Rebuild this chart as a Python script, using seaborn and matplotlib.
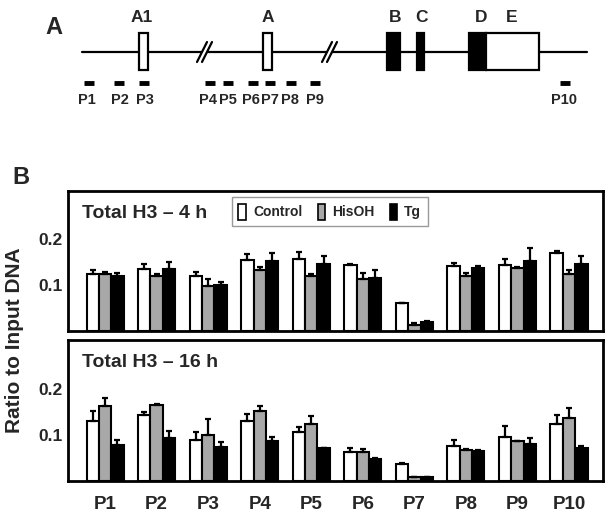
import numpy as np
import pandas as pd
import matplotlib
matplotlib.use("Agg")
import matplotlib.pyplot as plt
import matplotlib.patches as mpatches
import seaborn as sns

# ---- panel B data ----
probes = ["P1", "P2", "P3", "P4", "P5", "P6", "P7", "P8", "P9", "P10"]
treatments = ["Control", "HisOH", "Tg"]

h3_4h_control = [0.124, 0.135, 0.120, 0.155, 0.156, 0.144, 0.061, 0.142, 0.144, 0.170]
h3_4h_hisoh = [0.124, 0.120, 0.098, 0.133, 0.120, 0.113, 0.014, 0.120, 0.137, 0.124]
h3_4h_tg = [0.120, 0.135, 0.101, 0.153, 0.147, 0.116, 0.020, 0.137, 0.153, 0.147]
err_4h_control = [0.009, 0.011, 0.009, 0.012, 0.016, 0.003, 0.001, 0.006, 0.013, 0.004]
err_4h_hisoh = [0.005, 0.004, 0.015, 0.006, 0.004, 0.014, 0.004, 0.007, 0.002, 0.009]
err_4h_tg = [0.007, 0.015, 0.006, 0.017, 0.016, 0.017, 0.001, 0.005, 0.028, 0.017]

h3_16h_control = [0.130, 0.142, 0.089, 0.130, 0.106, 0.062, 0.036, 0.075, 0.096, 0.123]
h3_16h_hisoh = [0.162, 0.165, 0.100, 0.151, 0.123, 0.062, 0.009, 0.067, 0.086, 0.137]
h3_16h_tg = [0.078, 0.093, 0.073, 0.087, 0.071, 0.047, 0.009, 0.065, 0.080, 0.071]
err_16h_control = [0.021, 0.007, 0.018, 0.015, 0.011, 0.009, 0.002, 0.014, 0.022, 0.019]
err_16h_hisoh = [0.018, 0.002, 0.034, 0.011, 0.017, 0.008, 0.000, 0.002, 0.001, 0.021]
err_16h_tg = [0.010, 0.016, 0.011, 0.008, 0.001, 0.002, 0.000, 0.001, 0.013, 0.004]

# ---- panel A schematic (pixel positions of the gene map) ----
exon_names = ["A1", "A", "B", "C", "D", "E"]
exon_left = [139, 263, 387, 417, 469, 486]
exon_right = [148, 272, 400, 424, 486, 539]
exon_filled = [False, False, True, True, True, False]
exon_label_x = [142, 268, 395, 421, 481, 512]
break_x = [204.5, 329.5]
probe_x = [89, 119, 144, 210, 228, 253, 270, 291, 315, 565]
probe_label_x = [87, 120, 145, 208, 228, 251, 270, 290, 315, 564]

bar_colors = {"Control": "white", "HisOH": "#a8a8a8", "Tg": "black"}

sns.set_style("white")
plt.rcParams['font.family'] = ['Liberation Sans', 'DejaVu Sans']
plt.rcParams['font.weight'] = 'bold'

W, H = 614, 516
fig = plt.figure(figsize=(W / 100, H / 100), dpi=100)

# gene map drawn on a full-figure axes in pixel units
ax0 = fig.add_axes([0, 0, 1, 1])
ax0.set_xlim(0, W)
ax0.set_ylim(H, 0)
ax0.axis("off")

ax0.plot([82, 587], [52, 52], color="black", lw=1.6, zorder=1)
for name, l, r, filled, lx in zip(exon_names, exon_left, exon_right, exon_filled, exon_label_x):
    ax0.add_patch(mpatches.Rectangle((l, 33), r - l, 37, facecolor="black" if filled else "white",
                                     edgecolor="black", lw=1.6, zorder=3))
    ax0.text(lx, 18, name, ha="center", va="center", fontsize=12.5, fontweight="bold")

for bx in break_x:
    ax0.add_patch(mpatches.Polygon([(bx - 7.5, 62), (bx + 2.5, 42), (bx + 7.5, 42), (bx - 2.5, 62)],
                                   closed=True, facecolor="white", edgecolor="none", zorder=2))
    ax0.plot([bx - 7.5, bx + 2.5], [62, 42], color="black", lw=1.6, zorder=3)
    ax0.plot([bx - 2.5, bx + 7.5], [62, 42], color="black", lw=1.6, zorder=3)

for name, px, lx in zip(probes, probe_x, probe_label_x):
    ax0.plot([px - 5, px + 5], [83, 83], color="black", lw=3.5, solid_capstyle="butt")
    ax0.text(lx, 100, name, ha="center", va="center", fontsize=10.5, fontweight="bold")

fig.text(54 / W, 1 - 27 / H, "A", ha="center", va="center", fontsize=17, fontweight="bold")
fig.text(21 / W, 1 - 178 / H, "B", ha="center", va="center", fontsize=17, fontweight="bold")
fig.text(15 / W, 1 - 340 / H, "Ratio to Input DNA", rotation=90, ha="center", va="center",
         fontsize=15, fontweight="bold")

left = 68 / W
width = (603 - 68) / W
ax1 = fig.add_axes([left, 1 - 331 / H, width, 140 / H])
ax2 = fig.add_axes([left, 1 - 481 / H, width, 141 / H])


def draw_panel(ax, ctrl, his, tg, errs, title, show_x):
    df = pd.DataFrame({
        "probe": probes * 3,
        "treatment": np.repeat(treatments, len(probes)),
        "value": ctrl + his + tg,
    })
    sns.barplot(data=df, x="probe", y="value", hue="treatment", order=probes,
                hue_order=treatments, palette=bar_colors, saturation=1, width=0.72,
                gap=0, edgecolor="black", linewidth=1.5, errorbar=None, legend=False, ax=ax)
    # upward-only error bars on each bar
    for container, err in zip(ax.containers, errs):
        xs = [b.get_x() + b.get_width() / 2 for b in container]
        ys = [b.get_height() for b in container]
        ax.errorbar(xs, ys, yerr=[np.zeros(len(err)), err], fmt="none", ecolor="black",
                    elinewidth=1.6, capsize=2.5, capthick=1.6, zorder=4)
    ax.set_xlim(-0.72, 9.66)
    ax.set_ylim(0, 0.305)
    ax.set_yticks([0.1, 0.2])
    ax.set_yticklabels(["0.1", "0.2"], fontweight="bold")
    ax.tick_params(axis="y", direction="in", length=5, width=2, labelsize=12.5, pad=4, color="black")
    ax.tick_params(axis="x", length=0, labelsize=13.5, pad=11, labelbottom=show_x)
    for lab in ax.get_xticklabels():
        lab.set_fontweight("bold")
    ax.set_xlabel("")
    ax.set_ylabel("")
    for sp in ax.spines.values():
        sp.set_visible(True)
        sp.set_color("black")
        sp.set_linewidth(2)
    ax.text(0.026, 0.84, title, transform=ax.transAxes, ha="left", va="center",
            fontsize=14, fontweight="bold")


draw_panel(ax1, h3_4h_control, h3_4h_hisoh, h3_4h_tg,
           [err_4h_control, err_4h_hisoh, err_4h_tg], "Total H3 \u2013 4 h", False)
draw_panel(ax2, h3_16h_control, h3_16h_hisoh, h3_16h_tg,
           [err_16h_control, err_16h_hisoh, err_16h_tg], "Total H3 \u2013 16 h", True)

handles = [mpatches.Patch(facecolor=bar_colors[t], edgecolor="black", lw=1.2, label=t) for t in treatments]
leg = ax1.legend(handles=handles, loc="upper left", bbox_to_anchor=(0.307, 0.955), ncol=3,
                 frameon=True, fancybox=False, edgecolor="#808080", fontsize=10,
                 handlelength=0.55, handleheight=1.4, handletextpad=0.5, columnspacing=1.1,
                 borderpad=0.45, borderaxespad=0)
leg.get_frame().set_linewidth(1.0)
for t in leg.get_texts():
    t.set_fontweight("bold")

fig.savefig("out.png", dpi=100)
